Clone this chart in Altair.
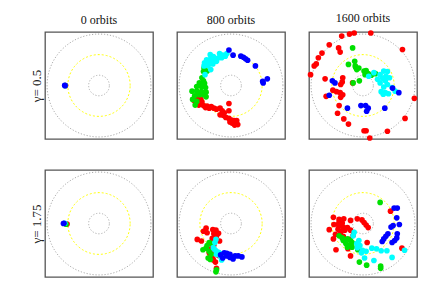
import altair as alt
import pandas as pd

# ---- data (unit: outer dotted circle radius = 1) ----
RING_RADII = [1.0, 0.6, 0.2]
RING_COLORS = ["#aaaaaa", "#ffff00", "#aaaaaa"]
RING_DASH = [[1.2, 1.8], [2, 2], [1.2, 1.8]]
COL_TITLES = ["0 orbits", "800 orbits", "1600 orbits"]
ROW_TITLES = ["γ= 0.5", "γ= 1.75"]
SPECIES = ["red", "green", "cyan", "blue"]
SPECIES_COLORS = ["#ff0000", "#00e000", "#00ffff", "#0000ff"]

# gamma = 0.5, 0 orbits
A0_RED = [(-0.645, 0.0)]
A0_GREEN = [(-0.65, 0.0)]
A0_CYAN = [(-0.655, 0.0)]
A0_BLUE = [(-0.66, 0.005), (-0.655, -0.005)]

# gamma = 0.5, 800 orbits
A1_RED = [(-0.71, -0.29), (-0.65, -0.25), (-0.58, -0.27), (-0.67, -0.34), (-0.62, -0.38),
          (-0.56, -0.32), (-0.53, -0.39), (-0.49, -0.43), (-0.46, -0.40), (-0.42, -0.44),
          (-0.38, -0.41), (-0.33, -0.44), (-0.28, -0.46), (-0.21, -0.44), (-0.17, -0.49),
          (-0.13, -0.53), (-0.04, -0.35), (-0.21, -0.57), (-0.15, -0.58), (-0.04, -0.49),
          (-0.10, -0.62), (-0.04, -0.64), (0.01, -0.67), (0.06, -0.68), (0.10, -0.72),
          (0.13, -0.76), (0.02, -0.73), (0.07, -0.77), (-0.02, -0.71), (0.11, -0.68)]
A1_GREEN = [(-0.52, 0.34), (-0.46, 0.28), (-0.53, 0.27), (-0.56, 0.15), (-0.53, 0.09),
            (-0.61, 0.05), (-0.51, 0.04), (-0.66, -0.02), (-0.57, -0.02), (-0.49, -0.04),
            (-0.75, -0.11), (-0.66, -0.11), (-0.57, -0.12), (-0.48, -0.13), (-0.70, -0.20),
            (-0.61, -0.18), (-0.53, -0.18), (-0.48, -0.22), (-0.74, -0.27), (-0.66, -0.31),
            (-0.69, -0.38)]
A1_CYAN = [(-0.40, 0.60), (-0.34, 0.56), (-0.22, 0.62), (-0.16, 0.59), (-0.11, 0.57),
           (-0.47, 0.50), (-0.39, 0.52), (-0.31, 0.52), (-0.24, 0.54), (-0.18, 0.54),
           (-0.51, 0.44), (-0.44, 0.46), (-0.35, 0.47), (-0.28, 0.47), (-0.52, 0.38),
           (-0.44, 0.39), (-0.35, 0.42), (-0.39, 0.31), (-0.50, 0.21), (-0.08, 0.62)]
A1_BLUE = [(-0.04, 0.69), (0.04, 0.59), (0.19, 0.57), (0.24, 0.55), (0.28, 0.52),
           (0.32, 0.49), (0.47, 0.38), (0.61, 0.08), (0.70, 0.13), (0.62, 0.05)]

# gamma = 0.5, 1600 orbits
A2_RED = [(-0.41, 0.96), (-0.26, 1.00), (-0.17, 1.02), (0.15, 1.02), (-0.65, 0.79),
          (0.76, 0.70), (-0.47, 0.73), (-0.44, 0.65), (-0.79, 0.63), (-0.86, 0.54),
          (-0.90, 0.42), (-0.94, 0.38), (-1.01, 0.21), (-0.73, 0.13), (-0.39, 0.15),
          (-0.40, 0.07), (-0.43, 0.02), (-0.20, 0.05), (-0.51, -0.12), (-0.44, -0.14),
          (-0.58, -0.09), (-0.39, -0.18), (-0.71, -0.21), (-0.43, -0.23), (-0.46, -0.39),
          (-0.49, -0.54), (-0.37, -0.65), (-0.28, -0.75), (0.02, -0.88), (0.06, -0.88),
          (0.13, -1.02), (0.47, -0.89), (0.81, -0.64), (0.99, -0.25)]
A2_GREEN = [(-0.20, 0.73), (-0.28, 0.41), (-0.16, 0.47), (-0.15, 0.38), (-0.12, 0.31),
            (-0.08, 0.34), (0.02, 0.28), (0.06, 0.29), (0.10, 0.23), (0.04, 0.21),
            (0.16, 0.20), (0.24, 0.23), (-0.19, 0.05), (-0.07, 0.09), (-0.14, 0.35)]
A2_CYAN = [(0.11, 0.18), (0.21, 0.25), (0.33, 0.21), (0.40, 0.28), (0.47, 0.27),
           (0.44, 0.18), (0.38, 0.14), (0.51, 0.15), (0.28, 0.12), (0.33, 0.05),
           (0.43, 0.09), (0.47, 0.02), (0.40, -0.03), (0.35, -0.12), (0.43, -0.14),
           (0.49, -0.16), (0.39, -0.17), (0.56, -0.04), (0.62, -0.11)]
A2_BLUE = [(-0.59, 0.09), (-0.54, 0.05), (-0.65, -0.19), (-0.30, -0.44), (-0.04, -0.39),
           (0.05, -0.39), (0.10, -0.44), (0.07, -0.50), (0.42, -0.44), (0.57, -0.05),
           (0.69, -0.14)]

# gamma = 1.75, 0 orbits
B0_RED = [(-0.615, -0.01)]
B0_GREEN = [(-0.635, -0.015)]
B0_CYAN = [(-0.66, 0.005)]
B0_BLUE = [(-0.685, 0.0), (-0.675, 0.005)]

# gamma = 1.75, 800 orbits
B1_RED = [(-0.48, -0.09), (-0.53, -0.15), (-0.46, -0.18), (-0.35, -0.12), (-0.29, -0.13),
          (-0.33, -0.20), (-0.24, -0.19), (-0.28, -0.25), (-0.22, -0.34), (-0.65, -0.31),
          (-0.57, -0.34), (-0.40, -0.37), (-0.33, -0.42), (-0.38, -0.49), (-0.34, -0.55),
          (-0.40, -0.65), (-0.34, -0.71), (-0.35, -0.68), (-0.30, -0.75), (-0.28, -0.87),
          (-0.24, -0.62), (-0.42, -0.57), (-0.36, -0.29)]
B1_GREEN = [(-0.42, -0.37), (-0.37, -0.39), (-0.46, -0.43), (-0.54, -0.51), (-0.48, -0.48),
            (-0.42, -0.54), (-0.44, -0.67), (-0.40, -0.70), (-0.38, -0.60), (-0.28, -0.90),
            (-0.29, -0.94)]
B1_CYAN = [(-0.29, -0.31), (-0.31, -0.37), (-0.34, -0.47), (-0.29, -0.53), (-0.24, -0.56),
           (-0.21, -0.63), (-0.18, -0.71), (-0.28, -0.60), (-0.32, -0.50), (-0.22, -0.58)]
B1_BLUE = [(-0.13, -0.57), (-0.08, -0.58), (-0.02, -0.60), (-0.08, -0.63), (-0.02, -0.66),
           (0.03, -0.66), (0.08, -0.63), (0.14, -0.63), (0.21, -0.65), (-0.16, -0.67),
           (0.04, -0.69), (-0.20, -0.61)]

# gamma = 1.75, 1600 orbits
B2_RED = [(-0.57, 0.12), (-0.46, 0.08), (-0.37, 0.09), (-0.24, 0.06), (-0.11, 0.09),
          (-0.02, 0.07), (0.02, 0.02), (0.06, -0.03), (0.10, -0.08), (-0.65, -0.12),
          (-0.56, -0.02), (-0.48, -0.02), (-0.42, -0.04), (-0.38, -0.07), (-0.48, -0.11),
          (-0.42, -0.15), (-0.35, -0.13), (-0.30, -0.08), (-0.24, -0.13), (-0.53, -0.21),
          (-0.44, -0.21), (-0.38, -0.25), (-0.26, -0.31), (-0.19, -0.23), (-0.57, -0.30),
          (-0.52, -0.51), (-0.29, -0.49), (-0.24, -0.63), (0.08, -0.37), (0.53, 0.24),
          (0.75, -0.48), (-0.46, 0.03), (-0.40, 0.01)]
B2_GREEN = [(0.33, 0.41), (-0.46, -0.24), (-0.40, -0.28), (-0.35, -0.33), (-0.30, -0.30),
            (-0.24, -0.33), (-0.33, -0.39), (-0.26, -0.42), (-0.21, -0.37), (-0.30, -0.46),
            (-0.21, -0.46), (-0.10, -0.51), (-0.07, -0.75), (0.07, -0.81), (0.34, -0.83),
            (0.34, -0.87), (-0.38, -0.33)]
B2_CYAN = [(-0.17, -0.17), (-0.19, -0.24), (-0.08, -0.33), (-0.12, -0.39), (-0.06, -0.43),
           (-0.01, -0.52), (-0.03, -0.57), (0.06, -0.54), (0.17, -0.48), (0.26, -0.49),
           (0.35, -0.53), (0.46, -0.53), (-0.11, -0.47), (0.21, -0.72), (0.03, -0.67),
           (0.56, -0.66), (0.80, -0.52)]
B2_BLUE = [(0.60, 0.30), (0.66, 0.30), (0.65, 0.11), (0.70, -0.02), (0.58, -0.04),
           (0.54, -0.07), (0.48, -0.20), (0.44, -0.25), (0.40, -0.30), (0.37, -0.35),
           (0.66, -0.20), (0.65, -0.28), (0.61, -0.33), (0.56, -0.37)]

PANELS = [
    [[A0_RED, A0_GREEN, A0_CYAN, A0_BLUE], [A1_RED, A1_GREEN, A1_CYAN, A1_BLUE],
     [A2_RED, A2_GREEN, A2_CYAN, A2_BLUE]],
    [[B0_RED, B0_GREEN, B0_CYAN, B0_BLUE], [B1_RED, B1_GREEN, B1_CYAN, B1_BLUE],
     [B2_RED, B2_GREEN, B2_CYAN, B2_BLUE]],
]

DOMAIN = [-1.04, 1.04]
FONT = "Liberation Serif"


def panel(groups, col_title, row_title):
    rows = []
    for sp, pts in zip(SPECIES, groups):
        for (x, y) in pts:
            rows.append({"x": x, "y": y, "sp": sp})
    df = pd.DataFrame(rows)

    if row_title is not None:
        yaxis = alt.Axis(title=row_title, labels=False, ticks=False, domain=False,
                         grid=False, titleFont=FONT, titleFontSize=13,
                         titleFontWeight="normal", titleColor="#222",
                         titlePadding=2)
    else:
        yaxis = None

    xs = alt.Scale(domain=DOMAIN, nice=False, zero=False)
    ys = alt.Scale(domain=DOMAIN, nice=False, zero=False)

    layers = []
    for r, c, d in zip(RING_RADII, RING_COLORS, RING_DASH):
        ring = (
            alt.Chart(alt.sequence(0, 362, 2, as_="t"))
            .transform_calculate(rx=f"{r}*cos(datum.t*PI/180)",
                                 ry=f"{r}*sin(datum.t*PI/180)")
            .mark_line(color=c, strokeWidth=1, strokeDash=d)
            .encode(x=alt.X("rx:Q", scale=xs, axis=None),
                    y=alt.Y("ry:Q", scale=ys, axis=yaxis),
                    order="t:Q")
        )
        layers.append(ring)

    pts = (
        alt.Chart(df)
        .mark_circle(size=32, opacity=1)
        .encode(
            x=alt.X("x:Q", scale=xs, axis=None),
            y=alt.Y("y:Q", scale=ys, axis=yaxis),
            color=alt.Color("sp:N", scale=alt.Scale(domain=SPECIES, range=SPECIES_COLORS),
                            legend=None),
        )
    )
    layers.append(pts)

    props = {"width": 108, "height": 107,
             "view": alt.ViewBackground(stroke="#555", strokeWidth=1.3)}
    if col_title is not None:
        props["title"] = alt.TitleParams(col_title, font=FONT, fontSize=12,
                                         fontWeight="normal", color="#111", offset=5)
    return alt.layer(*layers).properties(**props)


panels = []
for ri in range(2):
    for ci in range(3):
        panels.append(panel(PANELS[ri][ci],
                            COL_TITLES[ci] if ri == 0 else None,
                            ROW_TITLES[ri] if ci == 0 else None))

chart = (
    alt.ConcatChart(concat=panels, columns=3,
                    spacing={"row": 31, "column": 24}, bounds="flush")
    .properties(padding={"left": 21, "top": 3, "right": 5, "bottom": 5})
    .configure(background="white")
)

chart.save("out.html", embed_options={"renderer": "svg", "actions": False})
